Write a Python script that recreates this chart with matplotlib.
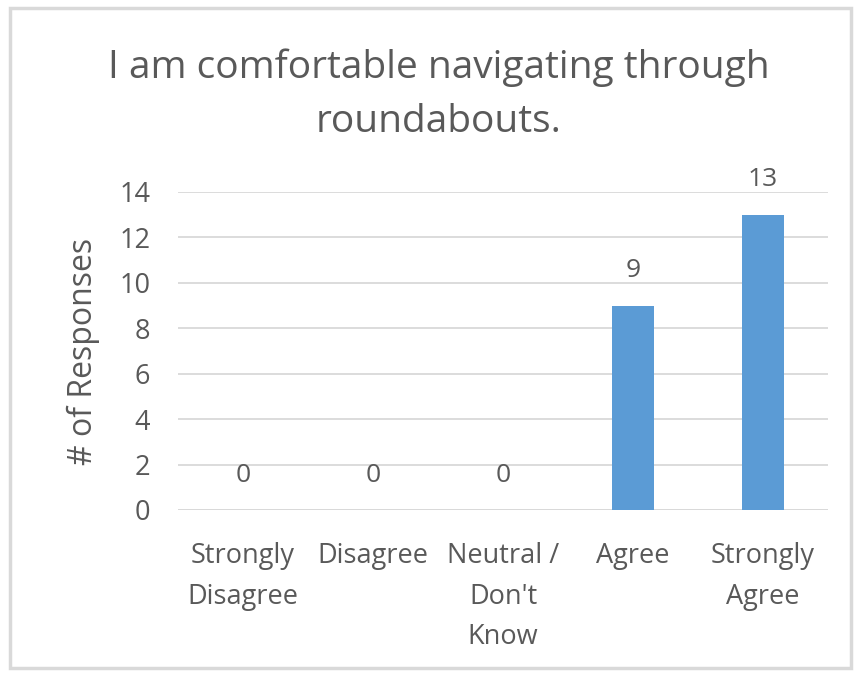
import matplotlib
matplotlib.use("Agg")
import matplotlib.pyplot as plt
from matplotlib.patches import Rectangle

categories = ["Strongly\nDisagree", "Disagree", "Neutral /\nDon't\nKnow", "Agree", "Strongly\nAgree"]
responses = [0, 0, 0, 9, 13]
y_ticks = [0, 2, 4, 6, 8, 10, 12, 14]

TEXT = "#595959"
BAR = "#5B9BD5"
GRID = "#d9d9d9"
W, H = 857, 673

plt.rcParams['font.family'] = ['Open Sans', 'DejaVu Sans']

fig = plt.figure(figsize=(W / 100, H / 100), dpi=100)
ax = fig.add_axes([178 / W, 1 - 510 / H, 650 / W, 318 / H])

x = list(range(len(categories)))
bars = ax.bar(x, responses, width=0.32, color=BAR, zorder=3)

ax.set_xlim(-0.5, len(categories) - 0.5)
ax.set_ylim(0, 14)
ax.set_yticks(y_ticks)
ax.yaxis.grid(True, color=GRID, linewidth=1.3, zorder=0)
ax.set_axisbelow(True)
for s in ax.spines.values():
    s.set_visible(False)
ax.axhline(0, color=GRID, linewidth=1.3, zorder=1)

ax.set_xticks(x)
ax.set_xticklabels(categories, fontsize=19.5, color=TEXT, linespacing=1.6)
ax.tick_params(axis='x', length=0, pad=23)
ax.tick_params(axis='y', length=0, pad=20, labelsize=19.5, labelcolor=TEXT)

# value labels above each bar
for xi, v in zip(x, responses):
    ax.annotate(str(v), (xi, v), xytext=(0, 16), textcoords="offset points",
                ha="center", va="bottom", fontsize=19, color=TEXT)

ax.set_ylabel("# of Responses", fontsize=23, color=TEXT, labelpad=14)

fig.text(439 / W, 1 - 68 / H, "I am comfortable navigating through",
         ha="center", va="center", fontsize=28, color=TEXT)
fig.text(439 / W, 1 - 122 / H, "roundabouts.",
         ha="center", va="center", fontsize=28, color=TEXT)

# light gray chart-area border
fig.patches.append(Rectangle((10 / W, 1 - 668 / H), 841 / W, 660 / H,
                             transform=fig.transFigure, fill=False,
                             edgecolor=GRID, linewidth=2.5))

fig.savefig("out.png", dpi=100)
